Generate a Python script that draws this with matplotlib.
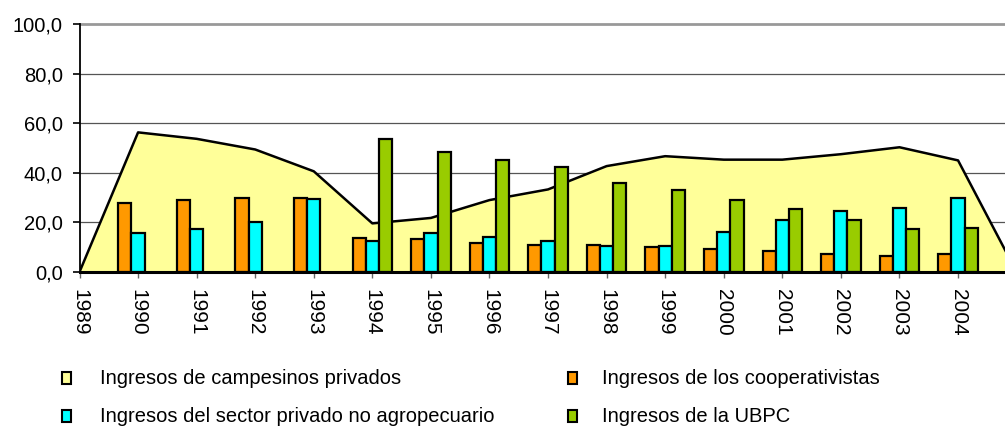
import numpy as np
import matplotlib
matplotlib.use('Agg')
import matplotlib.pyplot as plt
import matplotlib.patches as patches

plt.rcParams['font.family'] = ['Liberation Sans', 'DejaVu Sans']

# Datos (1989-2005; 2005 queda fuera del borde derecho)
years = ['1989', '1990', '1991', '1992', '1993', '1994', '1995', '1996', '1997',
         '1998', '1999', '2000', '2001', '2002', '2003', '2004', '2005']
campesinos = [0.0, 56.3, 53.7, 49.4, 40.6, 19.6, 21.8, 29.0, 33.3,
              42.7, 46.7, 45.3, 45.3, 47.5, 50.3, 45.0, 0.0]
cooperativistas = [np.nan, 27.8, 28.9, 30.0, 29.7, 13.9, 13.4, 11.8, 11.0,
                   10.7, 9.9, 9.4, 8.4, 7.2, 6.3, 7.1, np.nan]
privado_no_agro = [np.nan, 15.7, 17.3, 20.2, 29.3, 12.7, 15.9, 14.2, 12.7,
                   10.4, 10.3, 16.3, 20.9, 24.5, 26.0, 29.8, np.nan]
ubpc = [np.nan, np.nan, np.nan, np.nan, np.nan, 53.5, 48.3, 45.0, 42.3,
        36.0, 32.9, 28.9, 25.3, 20.8, 17.3, 17.8, np.nan]

labels = ['Ingresos de campesinos privados',
          'Ingresos de los cooperativistas',
          'Ingresos del sector privado no agropecuario',
          'Ingresos de la UBPC']
colores = ['#FFFF99', '#FF9900', '#00FFFF', '#99CC00']

W, H = 1005, 428
fig = plt.figure(figsize=(W / 100, H / 100), dpi=100)
ax = fig.add_axes([79.5 / W, 1 - 272 / H, (W - 79.5) / W, (272 - 24) / H])

x = np.arange(len(years))
bw = 0.225

# Area de campesinos privados
ax.fill_between(x, campesinos, color=colores[0], zorder=2, lw=0)
ax.plot(x, campesinos, color='black', lw=1.8, zorder=3)

# Barras
ax.bar(x - bw, cooperativistas, bw, color=colores[1], edgecolor='black', lw=1.6, zorder=4)
ax.bar(x, privado_no_agro, bw, color=colores[2], edgecolor='black', lw=1.6, zorder=4)
ax.bar(x + bw, ubpc, bw, color=colores[3], edgecolor='black', lw=1.6, zorder=4)

ax.set_xlim(0, (W - 79.5) / 58.57)
ax.set_ylim(0, 100)

# Lineas de division
for v in [20, 40, 60, 80]:
    ax.axhline(v, color='#555555', lw=0.9, zorder=1)
ax.axhline(100, color='#999999', lw=2.0, zorder=1, clip_on=False)

ax.set_yticks([0, 20, 40, 60, 80, 100])
ax.set_yticklabels([f'{v:.1f}'.replace('.', ',') for v in [0, 20, 40, 60, 80, 100]])
ax.set_xticks(x[:16])
ax.set_xticklabels(years[:16], rotation=-90, fontsize=15)
ax.tick_params(axis='y', length=5, width=1.2, pad=7, labelsize=14.5, color='black')
ax.tick_params(axis='x', length=4, width=1, pad=8, color='#666666')

for s in ['top', 'right']:
    ax.spines[s].set_visible(False)
ax.spines['left'].set_linewidth(1.3)
ax.spines['bottom'].set_linewidth(2.2)
ax.spines['bottom'].set_zorder(5)
ax.patch.set_alpha(0)

# Leyenda: (x marcador, x texto, y centro)
pos = [(62, 100, 378), (568, 602, 378), (62, 100, 416), (568, 602, 416)]
for (mx, tx, py), lab, col in zip(pos, labels, colores):
    rect = patches.Rectangle((mx / W, 1 - (py + 6) / H), 9 / W, 12 / H,
                             facecolor=col, edgecolor='black', lw=1.5,
                             transform=fig.transFigure)
    fig.add_artist(rect)
    fig.text(tx / W, 1 - py / H, lab, fontsize=14.5, va='center', ha='left')

fig.savefig('out.png', dpi=100)
